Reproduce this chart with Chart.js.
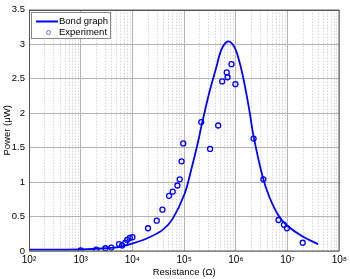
<!DOCTYPE html>
<html>
<head>
<meta charset="utf-8">
<script src="https://cdn.jsdelivr.net/npm/chart.js@4/dist/chart.umd.min.js"></script>
<style>
html,body{margin:0;padding:0;background:#fff;}
#wrap{width:350px;height:279px;position:relative;}
</style>
</head>
<body>
<div id="wrap"><canvas id="c" width="350" height="279"></canvas></div>
<script>
// Bond graph simulation curve (Resistance in Ohm, Power in microwatt)
const curveR = [100, 1000, 3000, 5700, 10200, 21400, 38900, 60300, 102000, 138000, 184000, 214000, 302000, 417000, 525000, 700000, 933000, 1175000, 1479000, 1841000, 2188000, 3311000, 4467000, 6607000, 9772000, 19500000, 38900000];
const curveP = [0.02, 0.025, 0.04, 0.06, 0.11, 0.20, 0.31, 0.47, 0.83, 1.19, 1.57, 1.80, 2.28, 2.66, 2.92, 3.04, 2.96, 2.74, 2.41, 2.02, 1.67, 1.07, 0.78, 0.52, 0.37, 0.21, 0.10];

// Experimental measurements
const expR = [1000, 2000, 3000, 3900, 5500, 6300, 7300, 7900, 8900, 10000, 20000, 29500, 38000, 51000, 60000, 74000, 82000, 89000, 96000, 214000, 317000, 455000, 543000, 665000, 690000, 822000, 980000, 2200000, 3400000, 6670000, 8500000, 9700000, 19600000];
const expP = [0.01, 0.02, 0.04, 0.05, 0.10, 0.08, 0.12, 0.16, 0.19, 0.20, 0.33, 0.44, 0.60, 0.80, 0.86, 0.95, 1.04, 1.30, 1.56, 1.87, 1.48, 1.82, 2.46, 2.59, 2.52, 2.71, 2.42, 1.63, 1.04, 0.45, 0.38, 0.33, 0.12];

// Axis settings
const xMin = 100, xMax = 1e8;
const yMin = 0, yMax = 3.5, yStep = 0.5;
const seriesNames = ['Bond graph', 'Experiment'];
const xTitle = 'Resistance (\u03A9)';
const yTitle = 'Power (\u03BCW)';

const SUP = {'0':'\u2070','1':'\u00B9','2':'\u00B2','3':'\u00B3','4':'\u2074','5':'\u2075','6':'\u2076','7':'\u2077','8':'\u2078','9':'\u2079','-':'\u207B'};
function isDecade(v){ const l = Math.log10(v); return Math.abs(l - Math.round(l)) < 1e-9; }
function supText(n){ return String(n).split('').map(c => SUP[c]).join(''); }

const FONT = "'Liberation Sans', Arial, sans-serif";
const BLUE = '#0000ff';

const frameAndLegend = {
  id: 'frameAndLegend',
  afterDatasetsDraw(chart) {
    const {ctx, chartArea: a} = chart;
    ctx.save();
    ctx.strokeStyle = '#555';
    ctx.lineWidth = 1;
    ctx.strokeRect(Math.round(a.left) + 0.5, Math.round(a.top) + 0.5, Math.round(a.right - a.left) - 1 + 0.5, Math.round(a.bottom - a.top) - 0.5);
    ctx.restore();
  },
  afterDraw(chart) {
    const {ctx, chartArea: a} = chart;
    const x = Math.round(a.left) + 2, y = Math.round(a.top) + 2;
    ctx.save();
    ctx.fillStyle = '#fff';
    ctx.fillRect(x, y, 79, 26);
    ctx.strokeStyle = '#888';
    ctx.lineWidth = 1;
    ctx.strokeRect(x + 0.5, y + 0.5, 79, 26);
    ctx.strokeStyle = BLUE;
    ctx.lineWidth = 2;
    ctx.beginPath();
    ctx.moveTo(x + 5, y + 9.5);
    ctx.lineTo(x + 27, y + 9.5);
    ctx.stroke();
    ctx.lineWidth = 1;
    ctx.strokeStyle = '#6a6aff';
    ctx.beginPath();
    ctx.arc(x + 17.5, y + 20.5, 2, 0, Math.PI * 2);
    ctx.stroke();
    ctx.fillStyle = '#000';
    ctx.font = '9.5px ' + FONT;
    ctx.textBaseline = 'middle';
    ctx.textAlign = 'left';
    ctx.fillText(seriesNames[0], x + 28, y + 9.5);
    ctx.fillText(seriesNames[1], x + 28, y + 20.5);
    ctx.restore();
  }
};

const curveData = curveR.map((r, i) => ({x: r, y: curveP[i]}));
const expData = expR.map((r, i) => ({x: r, y: expP[i]}));

new Chart(document.getElementById('c'), {
  type: 'scatter',
  data: {
    datasets: [
      {
        label: seriesNames[0],
        data: curveData,
        showLine: true,
        borderColor: BLUE,
        backgroundColor: BLUE,
        borderWidth: 1.8,
        pointRadius: 0,
        tension: 0.35,
        order: 2
      },
      {
        label: seriesNames[1],
        data: expData,
        showLine: false,
        borderColor: BLUE,
        backgroundColor: 'rgba(0,0,0,0)',
        borderWidth: 1.3,
        pointRadius: 2.5,
        pointStyle: 'circle',
        order: 1
      }
    ]
  },
  options: {
    responsive: false,
    animation: false,
    devicePixelRatio: 1,
    layout: { padding: { left: 0, top: 7, right: 10, bottom: 0 } },
    plugins: { legend: { display: false }, tooltip: { enabled: false } },
    scales: {
      x: {
        type: 'logarithmic',
        min: xMin,
        max: xMax,
        afterBuildTicks(scale) {
          const t = [];
          for (let e = 2; e < 8; e++) {
            for (let k = 1; k <= 9; k++) t.push({value: k * Math.pow(10, e)});
          }
          t.push({value: 1e8});
          scale.ticks = t;
        },
        afterFit(scale) { scale.height = 28; },
        ticks: {
          autoSkip: false,
          maxRotation: 0,
          padding: 3,
          color: '#000',
          font: { family: FONT, size: 10 },
          callback(v) {
            if (!isDecade(v)) return '';
            return '10' + supText(Math.round(Math.log10(v)));
          }
        },
        grid: {
          drawTicks: false,
          lineWidth: 1,
          color: ctx => (ctx.tick && isDecade(ctx.tick.value)) ? '#b4b4b4' : '#c4c4c4'
        },
        border: {
          display: false,
          dash: ctx => (ctx.type === 'tick' && ctx.tick && !isDecade(ctx.tick.value)) ? [1, 2] : []
        },
        title: {
          display: true,
          text: xTitle,
          color: '#000',
          font: { family: FONT, size: 9.5 },
          padding: { top: 0, bottom: 1 }
        }
      },
      y: {
        type: 'linear',
        min: yMin,
        max: yMax,
        afterFit(scale) { scale.width = 29; },
        ticks: {
          stepSize: yStep,
          padding: 4,
          color: '#000',
          font: { family: FONT, size: 9.5 },
          callback: v => String(Math.round(v * 10) / 10)
        },
        grid: { drawTicks: false, color: '#b4b4b4', lineWidth: 1 },
        border: { display: false },
        title: {
          display: true,
          text: yTitle,
          color: '#000',
          font: { family: FONT, size: 9.5 },
          padding: { top: 2, bottom: 0 }
        }
      }
    }
  },
  plugins: [frameAndLegend]
});
</script>
</body>
</html>
